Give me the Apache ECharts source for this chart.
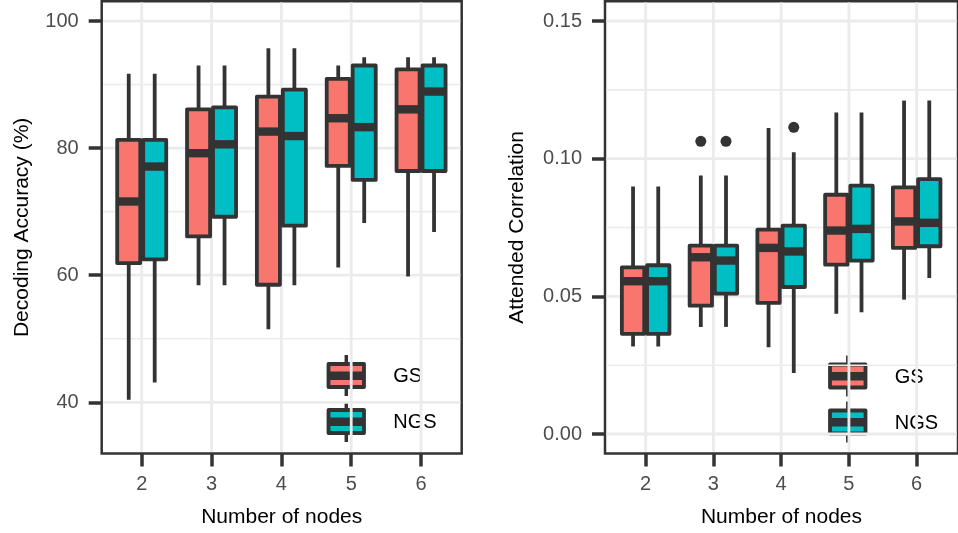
<!DOCTYPE html>
<html>
<head>
<meta charset="utf-8">
<script src="https://cdn.jsdelivr.net/npm/echarts@6/dist/echarts.min.js"></script>
<style>
html, body { margin: 0; padding: 0; background: #fff; }
#main { width: 958px; height: 533px; }
</style>
</head>
<body>
<div id="main"></div>
<script>
// number of nodes on the x axis
const nodes = [2, 3, 4, 5, 6];

// boxes: [whisker low, Q1, median, Q3, whisker high]
const accGS = [
    [40.4, 61.9, 71.6, 81.3, 91.7],
    [58.4, 66.1, 79.2, 86.1, 93.0],
    [51.5, 58.5, 82.6, 88.1, 95.7],
    [61.2, 77.2, 84.7, 90.9, 93.0],
    [59.8, 76.4, 86.1, 92.4, 94.3]
];
const accNGS = [
    [43.1, 62.5, 77.1, 81.3, 91.7],
    [58.4, 69.2, 80.6, 86.4, 93.0],
    [58.4, 67.8, 81.9, 89.2, 95.7],
    [68.2, 75.0, 83.3, 93.0, 94.3],
    [66.8, 76.4, 88.9, 93.0, 94.3]
];
const corGS = [
    [0.0318, 0.0364, 0.0555, 0.0605, 0.0899],
    [0.0389, 0.0466, 0.0642, 0.0684, 0.0939],
    [0.0315, 0.0476, 0.0676, 0.0742, 0.1111],
    [0.0437, 0.0615, 0.0739, 0.0869, 0.1168],
    [0.0488, 0.0676, 0.0772, 0.0896, 0.1211]
];
const corNGS = [
    [0.0318, 0.0364, 0.0555, 0.0613, 0.0899],
    [0.0389, 0.0510, 0.0630, 0.0684, 0.0939],
    [0.0222, 0.0534, 0.0663, 0.0757, 0.1023],
    [0.0442, 0.0630, 0.0745, 0.0902, 0.1168],
    [0.0567, 0.0682, 0.0767, 0.0926, 0.1211]
];
// outliers: [node, value]
const corGSOut = [[3, 0.1063]];
const corNGSOut = [[3, 0.1063], [4, 0.1114]];

// tick labels / grid breaks
const accTicks = [40, 60, 80, 100];
const accMinor = [50, 70, 90];
const corTicks = [0, 0.05, 0.10, 0.15];
const corMinor = [0.025, 0.075, 0.125];

const groups = ['GS', 'NGS'];
const colors = ['#F8766D', '#00BFC4'];
const dark = '#333333';
const FONT = 'Liberation Sans, Arial, Helvetica, sans-serif';

const dodge = 0.186, boxW = 0.33, lw = 3.8, medW = 8.4;

const chart = echarts.init(document.getElementById('main'), null, {renderer: 'canvas'});

function boxItem(offset, color) {
    return function (params, api) {
        const x = api.value(0) + offset;
        const h = boxW / 2;
        const lo = api.coord([x, api.value(1)]);
        const q1 = api.coord([x - h, api.value(2)]);
        const md = api.coord([x, api.value(3)]);
        const q3 = api.coord([x + h, api.value(4)]);
        const hi = api.coord([x, api.value(5)]);
        return {
            type: 'group',
            children: [
                {type: 'line', shape: {x1: lo[0], y1: lo[1], x2: hi[0], y2: hi[1]}, style: {stroke: dark, lineWidth: lw}},
                {type: 'rect', shape: {x: q1[0], y: q3[1], width: q3[0] - q1[0], height: q1[1] - q3[1]},
                    style: {fill: color, stroke: dark, lineWidth: lw, lineJoin: 'round'}},
                {type: 'line', shape: {x1: q1[0], y1: md[1], x2: q3[0], y2: md[1]}, style: {stroke: dark, lineWidth: medW}}
            ]
        };
    };
}

function gridItem(xMin, yMin) {
    return function (params, api) {
        const kind = api.value(0);
        const v = api.value(1);
        const cs = params.coordSys;
        const w = kind === 1 ? 1.6 : 2.8;
        let shape;
        if (kind === 2) {
            const p = api.coord([v, yMin]);
            shape = {x1: p[0], y1: cs.y + 1.4, x2: p[0], y2: cs.y + cs.height - 1.4};
        } else {
            const p = api.coord([xMin, v]);
            shape = {x1: cs.x + 1.4, y1: p[1], x2: cs.x + cs.width - 1.4, y2: p[1]};
        }
        return {type: 'line', shape: shape, style: {stroke: '#ebebeb', lineWidth: w}};
    };
}

function gridData(major, minor) {
    return major.map(v => [0, v]).concat(minor.map(v => [1, v]), nodes.map(v => [2, v]));
}

const panels = [
    {xMin: 1.427, xMax: 6.582, yMin: 31.94, yMax: 103.12, ticks: accTicks, minor: accMinor,
        data: [accGS, accNGS], out: [[], []], title: 'Decoding Accuracy (%)', nameGap: 69,
        fmt: v => String(v)},
    {xMin: 1.40, xMax: 6.61, yMin: -0.00708, yMax: 0.1572, ticks: corTicks, minor: corMinor,
        data: [corGS, corNGS], out: [corGSOut, corNGSOut], title: 'Attended Correlation', nameGap: 77,
        fmt: v => v.toFixed(2)}
];

const xAxes = [], yAxes = [], series = [];
panels.forEach((p, i) => {
    xAxes.push({
        gridIndex: i, type: 'value', min: p.xMin, max: p.xMax,
        axisLine: {show: false, onZero: false},
        axisTick: {show: true, length: 13, customValues: nodes, lineStyle: {color: dark, width: 3.5}},
        axisLabel: {customValues: nodes, margin: 21, fontSize: 20, color: '#4d4d4d', fontFamily: FONT},
        splitLine: {show: false},
        name: 'Number of nodes', nameLocation: 'middle', nameGap: 53,
        nameTextStyle: {fontSize: 21, color: '#000', fontFamily: FONT}
    });
    yAxes.push({
        gridIndex: i, type: 'value', min: p.yMin, max: p.yMax,
        axisLine: {show: false, onZero: false},
        axisTick: {show: true, length: 13, customValues: p.ticks, lineStyle: {color: dark, width: 3.5}},
        axisLabel: {customValues: p.ticks, margin: 23, fontSize: 20, color: '#4d4d4d', fontFamily: FONT,
            formatter: p.fmt},
        splitLine: {show: false},
        name: p.title, nameLocation: 'middle', nameGap: p.nameGap,
        nameTextStyle: {fontSize: 21, color: '#000', fontFamily: FONT}
    });
    series.push({
        type: 'custom', xAxisIndex: i, yAxisIndex: i, z: 1, silent: true,
        renderItem: gridItem(p.xMin, p.yMin),
        data: gridData(p.ticks, p.minor)
    });
    groups.forEach((g, k) => {
        const off = k === 0 ? -dodge : dodge;
        series.push({
            type: 'custom', name: g, xAxisIndex: i, yAxisIndex: i, z: 3,
            renderItem: boxItem(off, colors[k]),
            data: p.data[k].map((b, j) => [nodes[j]].concat(b))
        });
        if (p.out[k].length) {
            series.push({
                type: 'scatter', xAxisIndex: i, yAxisIndex: i, z: 4,
                symbolSize: 11, itemStyle: {color: dark, opacity: 1},
                data: p.out[k].map(d => [d[0] + off, d[1]])
            });
        }
    });
});

// legend keys drawn like ggplot boxplot glyphs
function legendKey(x, y, color, label) {
    return {
        type: 'group', x: x, y: y,
        children: [
            {type: 'line', shape: {x1: 17.8, y1: -9, x2: 17.8, y2: 32}, style: {stroke: dark, lineWidth: 3.5}},
            {type: 'rect', shape: {x: 0, y: 0, width: 35.5, height: 23},
                style: {fill: color, stroke: dark, lineWidth: lw, lineJoin: 'round'}},
            {type: 'line', shape: {x1: 0, y1: 11.7, x2: 35.5, y2: 11.7}, style: {stroke: dark, lineWidth: medW}},
            {type: 'text', x: 64.8, y: 12.5,
                style: {text: label, fontSize: 20, fill: '#000', fontFamily: FONT, verticalAlign: 'middle'}}
        ]
    };
}

const graphic = [
    legendKey(328.5, 364, colors[0], groups[0]),
    legendKey(328.5, 410, colors[1], groups[1]),
    legendKey(830, 364.5, colors[0], groups[0]),
    legendKey(830, 410.5, colors[1], groups[1])
];

chart.setOption({
    animation: false,
    backgroundColor: '#fff',
    grid: [
        {left: 101.7, top: 1.2, width: 360, bottom: 79.5, show: true, backgroundColor: '#fff',
            borderColor: dark, borderWidth: 2.5},
        {left: 605, top: 1.2, right: -2.5, bottom: 79.5, show: true, backgroundColor: '#fff',
            borderColor: dark, borderWidth: 2.5}
    ],
    xAxis: xAxes,
    yAxis: yAxes,
    graphic: graphic,
    series: series
});
</script>
</body>
</html>
